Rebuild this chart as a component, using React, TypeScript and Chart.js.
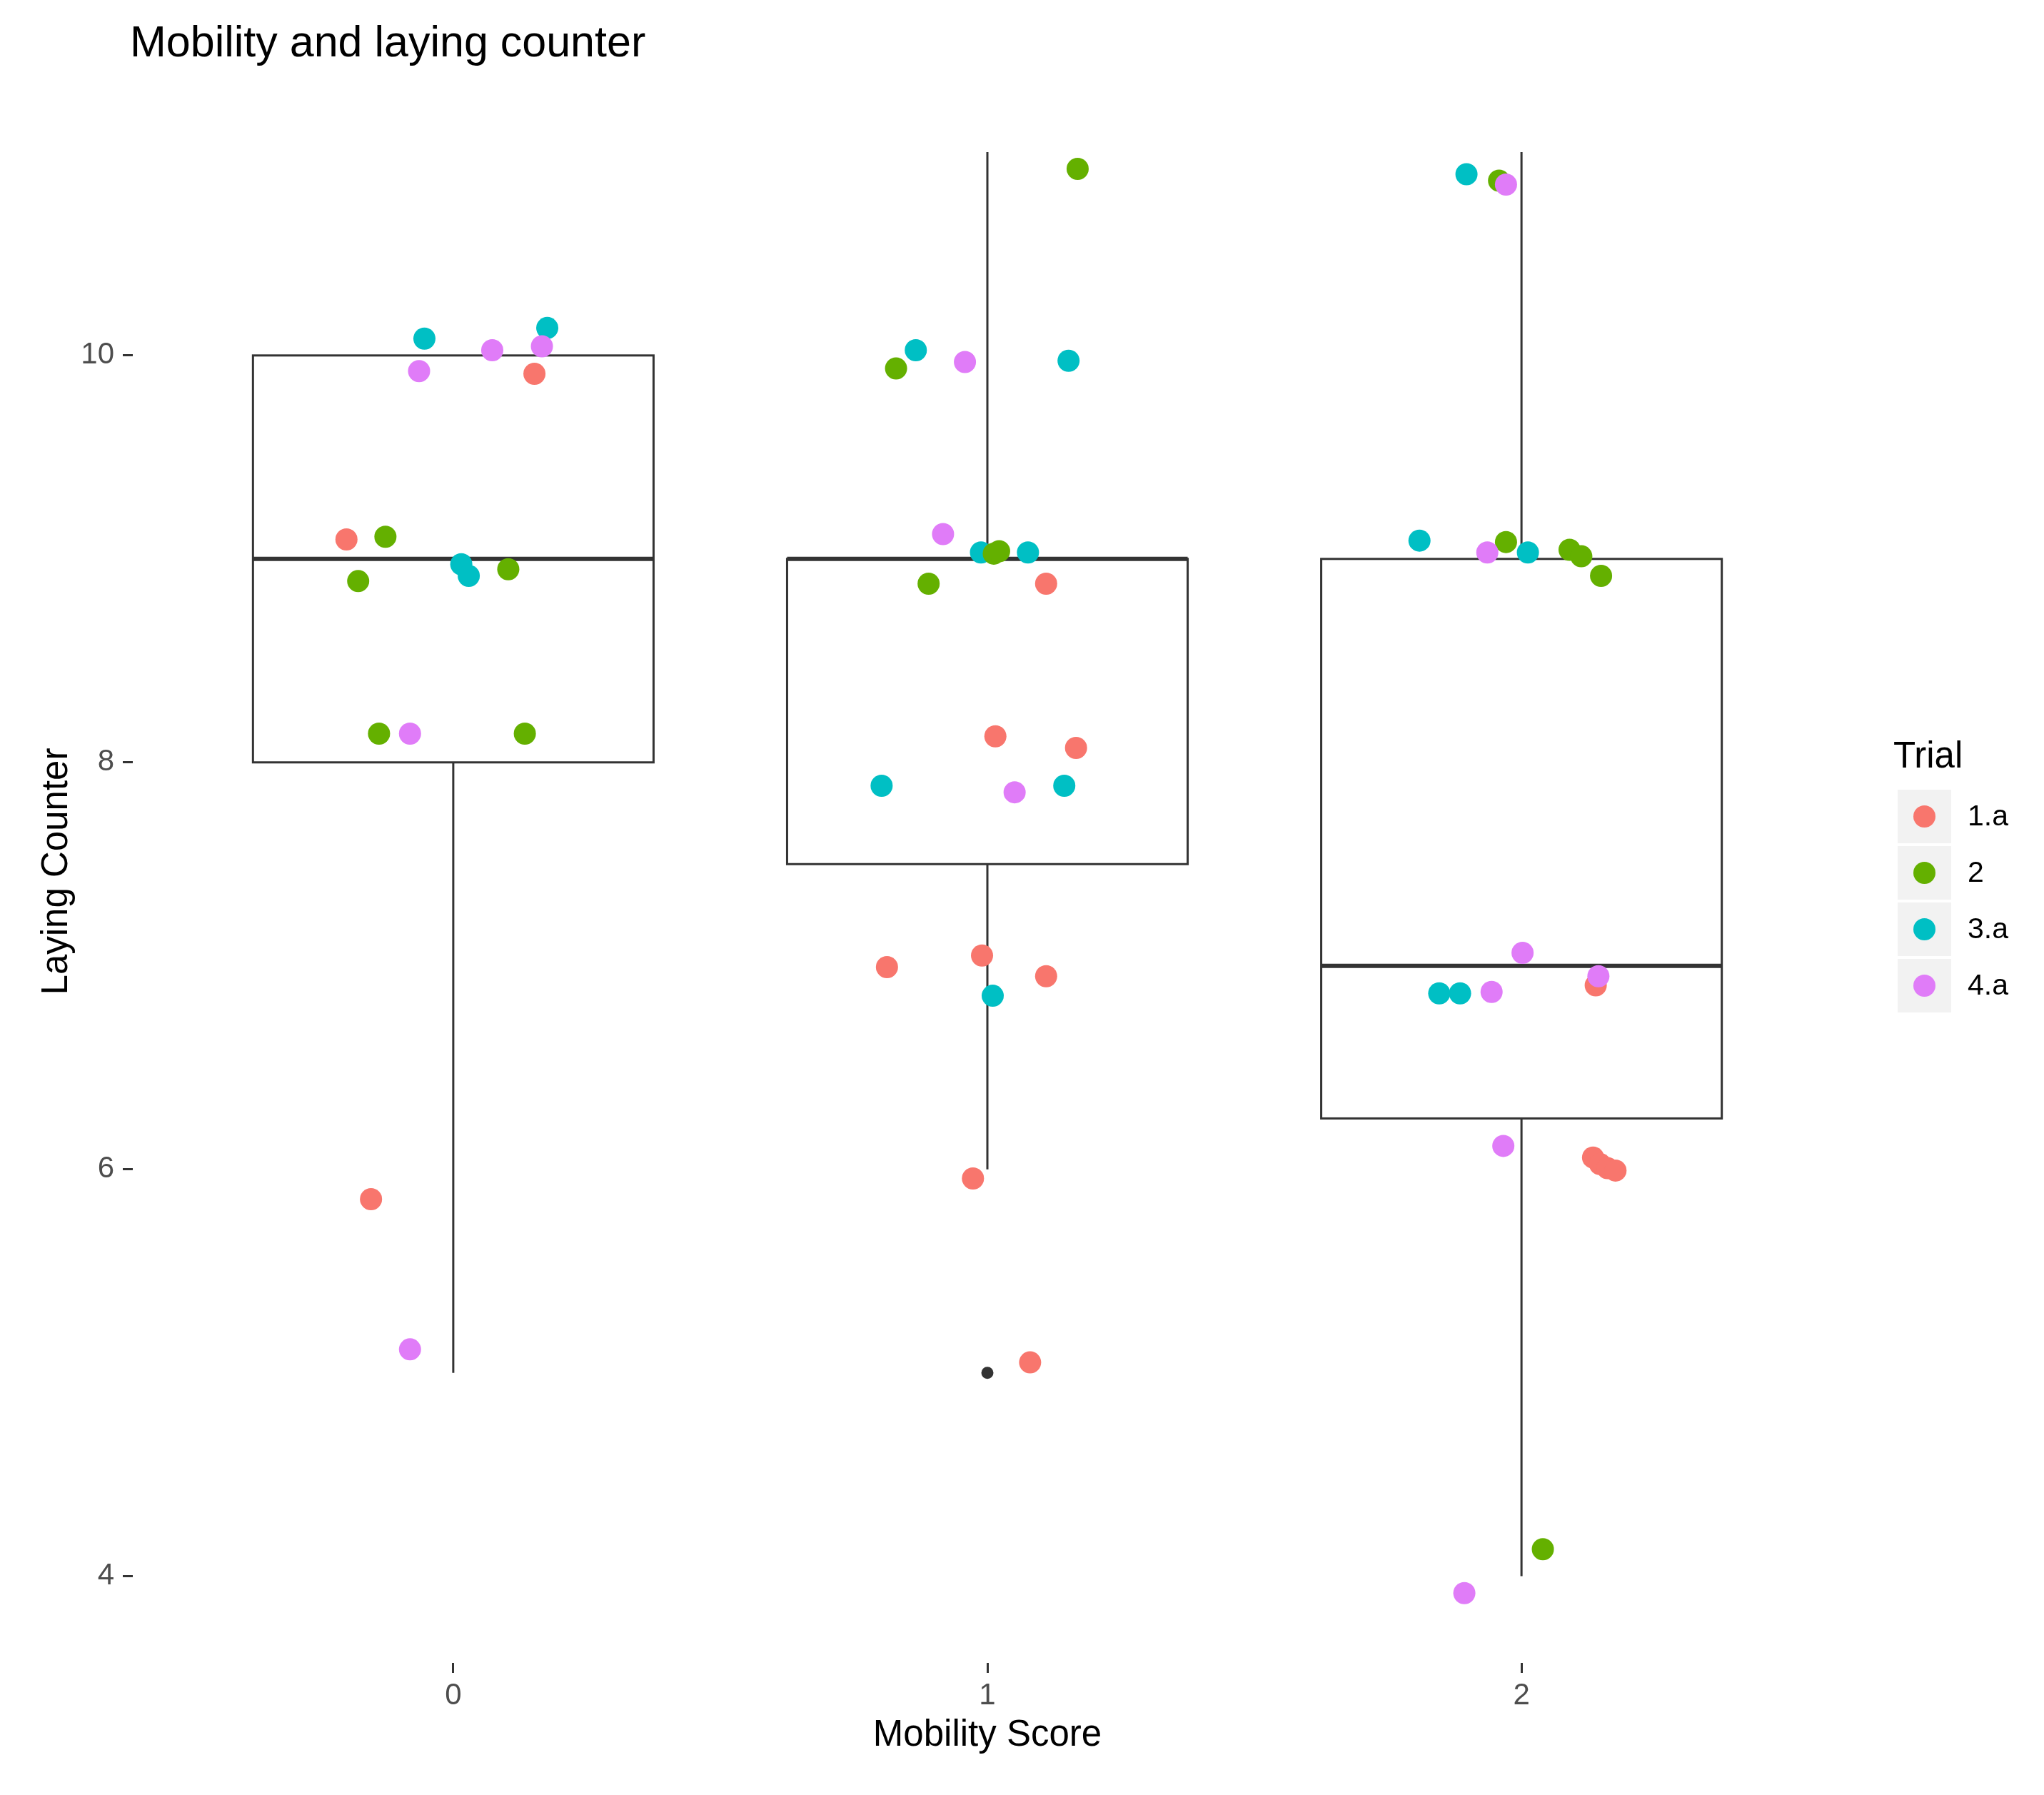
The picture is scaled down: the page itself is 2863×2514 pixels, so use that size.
import React, { useEffect, useRef } from 'react';
import { Chart, registerables } from 'chart.js';

Chart.register(...registerables);

const mobilityScores = [0, 1, 2];
const yTickValues = [4, 6, 8, 10];
const trialNames = ['1.a', '2', '3.a', '4.a'];

// boxplot stats per mobility score
const whiskerLow = [5, 6, 4];
const boxQ1 = [8, 7.5, 6.25];
const boxMedian = [9, 9, 7];
const boxQ3 = [10, 9, 9];
const whiskerHigh = [10, 11, 11];
const outliers = [[1, 5]];

// jittered points [mobility, laying counter]
const trial1a = [
  [0.152, 9.91], [-0.2, 9.096], [-0.154, 5.853],
  [1.11, 8.878], [1.015, 8.128], [1.166, 8.071], [0.812, 6.994], [0.99, 7.051],
  [1.11, 6.949], [0.973, 5.955], [1.08, 5.051],
  [2.139, 6.904], [2.134, 6.058], [2.147, 6.026], [2.161, 6.006], [2.176, 5.994],
];
const trial2 = [
  [-0.127, 9.109], [-0.178, 8.891], [0.103, 8.949], [-0.139, 8.141], [0.134, 8.141],
  [1.169, 10.917], [0.829, 9.936], [1.012, 9.026], [1.022, 9.038], [0.89, 8.878],
  [1.958, 10.859], [1.971, 9.083], [2.09, 9.045], [2.112, 9.013], [2.149, 8.917], [2.04, 4.133],
];
const trial3a = [
  [-0.054, 10.083], [0.176, 10.135], [0.015, 8.974], [0.029, 8.917],
  [0.866, 10.026], [1.152, 9.974], [0.988, 9.032], [1.076, 9.032], [0.802, 7.885],
  [1.144, 7.885], [1.01, 6.853],
  [1.897, 10.891], [1.809, 9.09], [2.012, 9.032], [1.846, 6.865], [1.885, 6.865],
];
const trial4a = [
  [0.073, 10.026], [0.166, 10.045], [-0.064, 9.923], [-0.081, 8.141], [-0.081, 5.115],
  [0.958, 9.968], [0.917, 9.122], [1.051, 7.853],
  [1.971, 10.84], [1.936, 9.032], [2.002, 7.064], [2.144, 6.949], [1.944, 6.872],
  [1.966, 6.115], [1.893, 3.917],
];

const trialPoints = [trial1a, trial2, trial3a, trial4a];
const trialColors = ['#F8766D', '#64B000', '#00BFC4', '#E07CF8'];
const drawOrder = [3, 1, 2, 0];

const FONT = "'Liberation Sans', Arial, sans-serif";
const BOX_COLOR = '#333333';

const boxPlugin = {
  id: 'ggBoxes',
  beforeDatasetsDraw(chart: any) {
    const { ctx } = chart;
    const x = chart.scales.x;
    const y = chart.scales.y;
    ctx.save();
    ctx.strokeStyle = BOX_COLOR;
    mobilityScores.forEach((m, i) => {
      const cx = x.getPixelForValue(m);
      const left = x.getPixelForValue(m - 0.375);
      const right = x.getPixelForValue(m + 0.375);
      const yQ1 = y.getPixelForValue(boxQ1[i]);
      const yQ3 = y.getPixelForValue(boxQ3[i]);
      const yMed = y.getPixelForValue(boxMedian[i]);

      ctx.lineWidth = 3;
      ctx.beginPath();
      ctx.moveTo(cx, y.getPixelForValue(whiskerHigh[i]));
      ctx.lineTo(cx, yQ3);
      ctx.moveTo(cx, yQ1);
      ctx.lineTo(cx, y.getPixelForValue(whiskerLow[i]));
      ctx.stroke();

      ctx.fillStyle = '#ffffff';
      ctx.fillRect(left, yQ3, right - left, yQ1 - yQ3);
      ctx.strokeRect(left, yQ3, right - left, yQ1 - yQ3);

      ctx.lineWidth = 6;
      ctx.beginPath();
      ctx.moveTo(left, yMed);
      ctx.lineTo(right, yMed);
      ctx.stroke();
    });
    ctx.fillStyle = BOX_COLOR;
    outliers.forEach(([m, v]) => {
      ctx.beginPath();
      ctx.arc(x.getPixelForValue(m), y.getPixelForValue(v), 8.5, 0, Math.PI * 2);
      ctx.fill();
    });
    ctx.restore();
  },
};

const decorPlugin = {
  id: 'ggDecor',
  afterDraw(chart: any) {
    const { ctx, chartArea } = chart;
    ctx.save();
    // title
    ctx.fillStyle = '#000000';
    ctx.font = `61px ${FONT}`;
    ctx.textBaseline = 'alphabetic';
    ctx.textAlign = 'left';
    ctx.fillText('Mobility and laying counter', chartArea.left - 4, 79);

    // legend
    const legendLeft = chartArea.right + 78;
    ctx.font = `51px ${FONT}`;
    ctx.fillText('Trial', legendLeft - 6, 1075);
    const keyTop = 1106;
    const keySize = 75;
    const keyStep = 79;
    trialNames.forEach((name, i) => {
      const top = keyTop + i * keyStep;
      ctx.fillStyle = '#F2F2F2';
      ctx.fillRect(legendLeft, top, keySize, keySize);
      ctx.fillStyle = trialColors[i];
      ctx.beginPath();
      ctx.arc(legendLeft + keySize / 2, top + keySize / 2, 15.5, 0, Math.PI * 2);
      ctx.fill();
      ctx.fillStyle = '#000000';
      ctx.font = `41px ${FONT}`;
      ctx.textBaseline = 'middle';
      ctx.fillText(name, legendLeft + 98, top + keySize / 2 + 1);
    });
    ctx.restore();
  },
};

export default function App() {
  const canvasRef = useRef<HTMLCanvasElement | null>(null);
  const chartRef = useRef<Chart | null>(null);

  useEffect(() => {
    if (!canvasRef.current) return;

    const tickGrid = {
      display: true,
      drawOnChartArea: false,
      drawTicks: true,
      tickLength: 14,
      tickWidth: 3,
      tickColor: BOX_COLOR,
    };

    chartRef.current = new Chart(canvasRef.current, {
      type: 'scatter',
      data: {
        datasets: trialPoints.map((pts, i) => ({
          label: trialNames[i],
          data: pts.map(([x, y]) => ({ x, y })),
          backgroundColor: trialColors[i],
          borderWidth: 0,
          pointRadius: 15.5,
          pointHoverRadius: 15.5,
          order: drawOrder[i],
        })),
      },
      options: {
        animation: false,
        responsive: false,
        devicePixelRatio: 1,
        layout: { padding: { top: 112, left: 0, right: 283, bottom: 0 } },
        plugins: {
          legend: { display: false },
          tooltip: { enabled: false },
          title: { display: false },
        },
        scales: {
          x: {
            type: 'linear',
            min: -0.6,
            max: 2.6,
            afterBuildTicks: (scale: any) => {
              scale.ticks = mobilityScores.map((v) => ({ value: v }));
            },
            afterFit: (scale: any) => {
              scale.height = 185;
            },
            grid: tickGrid,
            border: { display: false },
            ticks: {
              autoSkip: false,
              maxRotation: 0,
              padding: 7,
              color: '#4D4D4D',
              font: { family: FONT, size: 42 },
            },
            title: {
              display: true,
              text: 'Mobility Score',
              color: '#000000',
              font: { family: FONT, size: 51 },
              padding: { top: 0, bottom: 52 },
            },
          },
          y: {
            type: 'linear',
            min: 3.574,
            max: 11.354,
            afterBuildTicks: (scale: any) => {
              scale.ticks = yTickValues.map((v) => ({ value: v }));
            },
            afterFit: (scale: any) => {
              scale.width = 186;
            },
            grid: tickGrid,
            border: { display: false },
            ticks: {
              autoSkip: false,
              padding: 12,
              color: '#4D4D4D',
              font: { family: FONT, size: 42 },
            },
            title: {
              display: true,
              text: 'Laying Counter',
              color: '#000000',
              font: { family: FONT, size: 51 },
              padding: { top: 49, bottom: 0 },
            },
          },
        },
      },
      plugins: [boxPlugin, decorPlugin],
    } as any);

    return () => {
      chartRef.current?.destroy();
      chartRef.current = null;
    };
  }, []);

  return (
    <div style={{ position: 'absolute', left: 0, top: 0, width: 2863, height: 2514, background: '#ffffff' }}>
      <canvas
        ref={canvasRef}
        width={2863}
        height={2514}
        style={{ display: 'block' }}
        role="img"
        aria-label="Boxplot with jittered points of laying counter by mobility score, coloured by trial"
      />
    </div>
  );
}
